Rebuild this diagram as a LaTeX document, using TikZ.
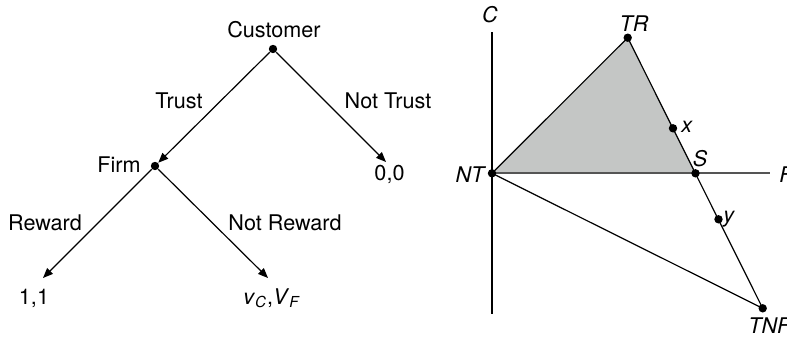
\documentclass[tikz,border=0pt]{standalone}
\usepackage{fontspec}
\setmainfont{TeX Gyre Heros}
\usetikzlibrary{arrows.meta}
\definecolor{regionfill}{HTML}{C4C6C5}
\definecolor{axisgray}{HTML}{555555}
\begin{document}
\begin{tikzpicture}[x=0.5pt,y=-0.5pt,
  font=\fontsize{10.8}{13}\selectfont,
  dot/.style={circle,fill=black,inner sep=0pt,minimum size=4.2pt},
  lbl/.style={anchor=base,inner sep=0pt},
  lbll/.style={anchor=base west,inner sep=0pt,font=\fontsize{10.8}{13}\selectfont\itshape},
  lblc/.style={anchor=base,inner sep=0pt,font=\fontsize{10.8}{13}\selectfont\itshape},
  move/.style={-{Triangle[length=5pt,width=4pt]},line width=0.6pt},
  segm/.style={line width=0.6pt},
  axisline/.style={line width=0.6pt}]
\useasboundingbox (0,0) rectangle (787,337);
% ---------- game tree ----------
\node[dot] (cust) at (273,49) {};
\node[dot] (firm) at (155,166) {};
\coordinate (nt00) at (386,162);
\coordinate (r11) at (43,278);
\coordinate (nrv) at (268,278);
\draw[move] (cust) -- (firm);
\draw[move] (cust) -- (nt00);
\draw[move] (firm) -- (r11);
\draw[move] (firm) -- (nrv);
\node[lbl] (custl) at (274,38) {Customer};
\node[lbl] (trustl) at (179,108) {Trust};
\node[lbl] (ntrustl) at (388,108) {Not Trust};
\node[lbl] (firml) at (119,172) {Firm};
\node[lbl] (zero) at (389.5,180) {0,0};
\node[lbl] (rewl) at (45,230) {Reward};
\node[lbl] (nrewl) at (285,230) {Not Reward};
\node[lbl] (one) at (34,304) {1,1};
\node[lbl] (vv) at (272,304) {\textit{v}\textsubscript{\textit{C}},\textit{V}\textsubscript{\textit{F}}};
% ---------- payoff plane ----------
\coordinate (pNT) at (492,173.3);
\coordinate (pTR) at (627.7,37.7);
\coordinate (pS) at (695.5,173.3);
\coordinate (pX) at (673,128.3);
\coordinate (pY) at (718.5,219.3);
\coordinate (pTNF) at (762.7,308.3);
\coordinate (Ctop) at (492,32);
\coordinate (Cbot) at (492,314);
\coordinate (Fend) at (770,173.3);
\fill[regionfill] (pNT) -- (pTR) -- (pS) -- cycle;
\draw[axisline] (Ctop) -- (Cbot);
\draw[axisline,axisgray,line width=0.9pt] (pNT) -- (Fend);
\draw[segm] (pNT) -- (pTR);
\draw[segm] (pTR) -- (pTNF);
\draw[segm] (pNT) -- (pTNF);
\node[dot] (NT) at (pNT) {};
\node[dot] (TR) at (pTR) {};
\node[dot] (S) at (pS) {};
\node[dot] (X) at (pX) {};
\node[dot] (Y) at (pY) {};
\node[dot] (TNF) at (pTNF) {};
\node[lblc] (Cl) at (490,22) {C};
\node[lblc] (TRl) at (634,32) {TR};
\node[lblc] (NTl) at (470,182) {NT};
\node[lblc] (Sl) at (700,166) {S};
\node[lbll] (Fl) at (779,182) {F};
\node[lbll] (xl) at (681,132) {x};
\node[lbll] (yl) at (723,222) {y};
\node[lbll] (TNFl) at (748,333) {TNF};
\end{tikzpicture}
\end{document}
